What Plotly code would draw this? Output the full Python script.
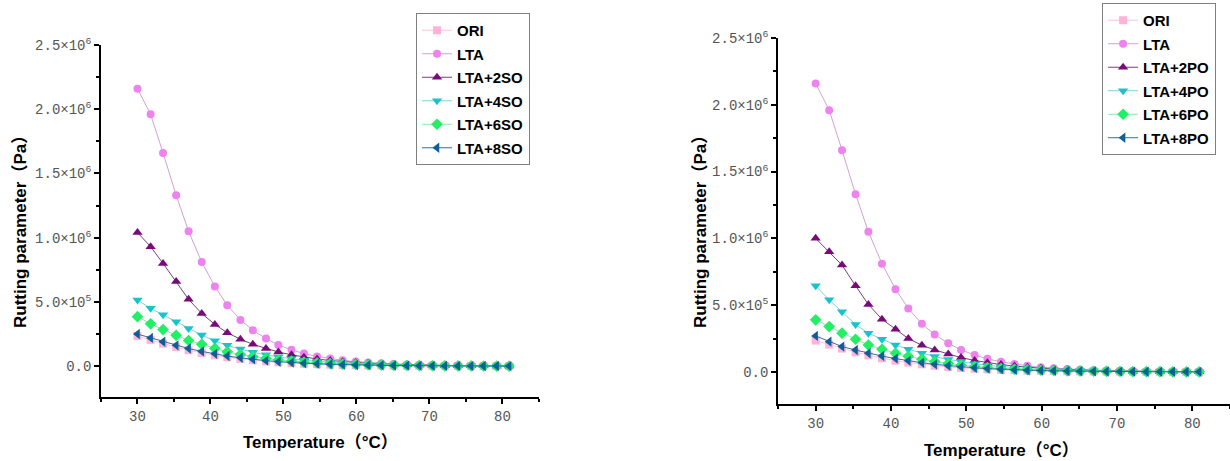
import plotly.graph_objects as go

# Test temperatures (°C)
temperature = [30.0, 31.8, 33.5, 35.3, 37.0, 38.8, 40.6, 42.3, 44.1, 45.8,
               47.6, 49.3, 51.1, 52.8, 54.6, 56.4, 58.1, 59.9, 61.6, 63.4,
               65.1, 66.9, 68.6, 70.4, 72.1, 73.9, 75.7, 77.4, 79.2, 80.9]

# Rutting parameter G*/sinδ (Pa)
ori = [2.35e5, 2.05e5, 1.75e5, 1.48e5, 1.24e5, 1.03e5, 8.5e4, 7.0e4, 5.7e4, 4.6e4,
       3.7e4, 3.0e4, 2.4e4, 1.95e4, 1.55e4, 1.25e4, 1.0e4, 8.0e3, 6.4e3, 5.1e3,
       4.1e3, 3.3e3, 2.6e3, 2.1e3, 1.7e3, 1.35e3, 1.1e3, 8.8e2, 7.0e2, 5.6e2]
lta = [2.16e6, 1.96e6, 1.66e6, 1.33e6, 1.05e6, 8.1e5, 6.2e5, 4.75e5, 3.6e5, 2.8e5,
       2.15e5, 1.65e5, 1.27e5, 9.8e4, 7.6e4, 5.9e4, 4.6e4, 3.6e4, 2.8e4, 2.2e4,
       1.7e4, 1.35e4, 1.05e4, 8.3e3, 6.5e3, 5.1e3, 4.0e3, 3.2e3, 2.5e3, 2.0e3]

lta_2so = [1.04e6, 9.3e5, 8.0e5, 6.6e5, 5.2e5, 4.1e5, 3.25e5, 2.6e5, 2.1e5, 1.7e5,
           1.38e5, 1.1e5, 8.8e4, 7.0e4, 5.6e4, 4.4e4, 3.5e4, 2.8e4, 2.2e4, 1.75e4,
           1.4e4, 1.1e4, 8.8e3, 7.0e3, 5.6e3, 4.4e3, 3.5e3, 2.8e3, 2.2e3, 1.8e3]
lta_4so = [5.15e5, 4.5e5, 4.0e5, 3.45e5, 2.93e5, 2.42e5, 1.97e5, 1.62e5, 1.33e5, 1.08e5,
           8.8e4, 7.1e4, 5.7e4, 4.6e4, 3.7e4, 3.0e4, 2.4e4, 1.9e4, 1.55e4, 1.25e4,
           1.0e4, 8.0e3, 6.4e3, 5.1e3, 4.1e3, 3.3e3, 2.6e3, 2.1e3, 1.7e3, 1.4e3]
lta_6so = [3.85e5, 3.3e5, 2.85e5, 2.4e5, 2.0e5, 1.7e5, 1.38e5, 1.12e5, 9.1e4, 7.4e4,
           6.0e4, 4.8e4, 3.9e4, 3.1e4, 2.5e4, 2.0e4, 1.6e4, 1.3e4, 1.05e4, 8.4e3,
           6.7e3, 5.4e3, 4.3e3, 3.5e3, 2.8e3, 2.2e3, 1.8e3, 1.4e3, 1.15e3, 9.0e2]
lta_8so = [2.5e5, 2.2e5, 1.9e5, 1.62e5, 1.37e5, 1.15e5, 9.6e4, 7.9e4, 6.5e4, 5.3e4,
           4.3e4, 3.5e4, 2.8e4, 2.3e4, 1.85e4, 1.5e4, 1.2e4, 9.7e3, 7.8e3, 6.3e3,
           5.1e3, 4.1e3, 3.3e3, 2.7e3, 2.2e3, 1.8e3, 1.4e3, 1.15e3, 9.3e2, 7.5e2]

lta_2po = [1.0e6, 9.0e5, 8.0e5, 6.45e5, 5.05e5, 3.95e5, 3.2e5, 2.5e5, 2.0e5, 1.65e5,
           1.35e5, 1.08e5, 8.6e4, 6.9e4, 5.5e4, 4.4e4, 3.5e4, 2.8e4, 2.2e4, 1.75e4,
           1.4e4, 1.1e4, 8.8e3, 7.0e3, 5.6e3, 4.4e3, 3.5e3, 2.8e3, 2.2e3, 1.8e3]
lta_4po = [6.45e5, 5.4e5, 4.5e5, 3.55e5, 2.9e5, 2.45e5, 2.02e5, 1.7e5, 1.4e5, 1.15e5,
           9.4e4, 7.6e4, 6.1e4, 4.9e4, 3.9e4, 3.1e4, 2.5e4, 2.0e4, 1.6e4, 1.28e4,
           1.02e4, 8.2e3, 6.5e3, 5.2e3, 4.2e3, 3.3e3, 2.7e3, 2.1e3, 1.7e3, 1.4e3]
lta_6po = [3.9e5, 3.4e5, 2.9e5, 2.45e5, 2.02e5, 1.7e5, 1.4e5, 1.17e5, 9.6e4, 7.8e4,
           6.3e4, 5.1e4, 4.1e4, 3.3e4, 2.65e4, 2.1e4, 1.7e4, 1.35e4, 1.08e4, 8.6e3,
           6.9e3, 5.5e3, 4.4e3, 3.5e3, 2.8e3, 2.2e3, 1.8e3, 1.4e3, 1.15e3, 9.0e2]
lta_8po = [2.7e5, 2.27e5, 1.9e5, 1.64e5, 1.4e5, 1.19e5, 1.0e5, 8.3e4, 6.9e4, 5.7e4,
           4.7e4, 3.8e4, 3.1e4, 2.5e4, 2.0e4, 1.6e4, 1.3e4, 1.05e4, 8.4e3, 6.8e3,
           5.5e3, 4.4e3, 3.5e3, 2.8e3, 2.3e3, 1.8e3, 1.45e3, 1.15e3, 9.3e2, 7.5e2]

y_tick_vals = [0, 5e5, 1e6, 1.5e6, 2e6, 2.5e6]
y_tick_text = ["0.0", "5.0×10<sup>5</sup>", "1.0×10<sup>6</sup>", "1.5×10<sup>6</sup>",
               "2.0×10<sup>6</sup>", "2.5×10<sup>6</sup>"]
x_tick_vals = [30, 40, 50, 60, 70, 80]

styles = [
    ("square", 8, "#FFB3D6", "rgba(255,179,214,0.8)"),
    ("circle", 8, "#EE82EE", "rgba(205,150,205,0.9)"),
    ("triangle-up", 9, "#7A0A7A", "rgba(110,40,110,0.9)"),
    ("triangle-down", 9, "#19C3CC", "rgba(110,205,215,0.9)"),
    ("diamond", 9, "#22EE66", "rgba(120,235,160,0.9)"),
    ("triangle-left", 9, "#0E5E9A", "rgba(30,95,150,0.9)"),
]

left_series = [("ORI", ori), ("LTA", lta), ("LTA+2SO", lta_2so), ("LTA+4SO", lta_4so),
               ("LTA+6SO", lta_6so), ("LTA+8SO", lta_8so)]
right_series = [("ORI", ori), ("LTA", lta), ("LTA+2PO", lta_2po), ("LTA+4PO", lta_4po),
                ("LTA+6PO", lta_6po), ("LTA+8PO", lta_8po)]

fig = go.Figure()

for panel, series, xa, ya, lg in [("a", left_series, "x", "y", "legend"),
                                  ("b", right_series, "x2", "y2", "legend2")]:
    for (name, vals), (sym, msize, mcol, lcol) in zip(series, styles):
        fig.add_trace(go.Scatter(
            x=temperature, y=vals, name=name, mode="lines+markers",
            line=dict(color=lcol, width=1),
            marker=dict(symbol=sym, size=msize, color=mcol),
            legendgroup=panel + name,
            xaxis=xa, yaxis=ya, legend=lg))

tick_font = dict(family="Liberation Mono", size=14, color="#555555")


def x_axis(domain, anchor, rng):
    return dict(domain=domain, anchor=anchor, range=rng, tickmode="array",
                tickvals=x_tick_vals, ticks="outside", ticklen=5, tickwidth=1.5,
                tickcolor="black", showline=True, linecolor="black", linewidth=1.5,
                showgrid=False, zeroline=False, tickfont=tick_font, automargin=False,
                minor=dict(ticks="outside", ticklen=3, tickcolor="black",
                           tick0=25, dtick=5, showgrid=False))


def y_axis(domain, anchor):
    return dict(domain=domain, anchor=anchor, range=[-2.4e5, 2.5e6], tickmode="array",
                tickvals=y_tick_vals, ticktext=y_tick_text, ticks="outside", ticklen=5,
                tickwidth=1.5, tickcolor="black", showline=True, linecolor="black",
                linewidth=1.5, showgrid=False, zeroline=False, tickfont=tick_font,
                automargin=False,
                minor=dict(ticks="outside", ticklen=3, tickcolor="black",
                           tick0=0, dtick=2.5e5, showgrid=False))


legend_common = dict(bgcolor="white", bordercolor="#7F7F7F", borderwidth=1,
                     font=dict(family="Liberation Sans", size=15, color="black",
                               weight="bold"),
                     itemwidth=30, tracegroupgap=1, xanchor="left", yanchor="top")

title_family = "Liberation Sans, Noto Sans CJK SC"
title_font = dict(family=title_family, size=17, color="black", weight="bold")

fig.update_layout(
    width=1230, height=461, margin=dict(l=0, r=0, t=0, b=0),
    paper_bgcolor="white", plot_bgcolor="white",
    xaxis=x_axis([0.0821, 0.4382], "y", [25, 85]),
    yaxis=y_axis([0.1388, 0.9024], "x"),
    xaxis2=x_axis([0.6325, 1.0], "y2", [25, 85]),
    yaxis2=y_axis([0.1236, 0.9176], "x2"),
    legend=dict(x=0.3382, y=0.9718, **legend_common),
    legend2=dict(x=0.896, y=0.9935, **legend_common),
    annotations=[
        dict(text="Rutting parameter（Pa）", x=20 / 1230, y=1 - 228 / 461,
             xref="paper", yref="paper", textangle=-90, showarrow=False,
             font=title_font, xanchor="center", yanchor="middle"),
        dict(text="Temperature（°C）", x=320 / 1230, y=1 - 442 / 461,
             xref="paper", yref="paper", showarrow=False,
             font=title_font, xanchor="center", yanchor="middle"),
        dict(text="Rutting parameter（Pa）", x=700 / 1230, y=1 - 228 / 461,
             xref="paper", yref="paper", textangle=-90, showarrow=False,
             font=title_font, xanchor="center", yanchor="middle"),
        dict(text="Temperature（°C）", x=1001 / 1230, y=1 - 450 / 461,
             xref="paper", yref="paper", showarrow=False,
             font=title_font, xanchor="center", yanchor="middle"),
    ],
)

fig.write_html("out.html")
